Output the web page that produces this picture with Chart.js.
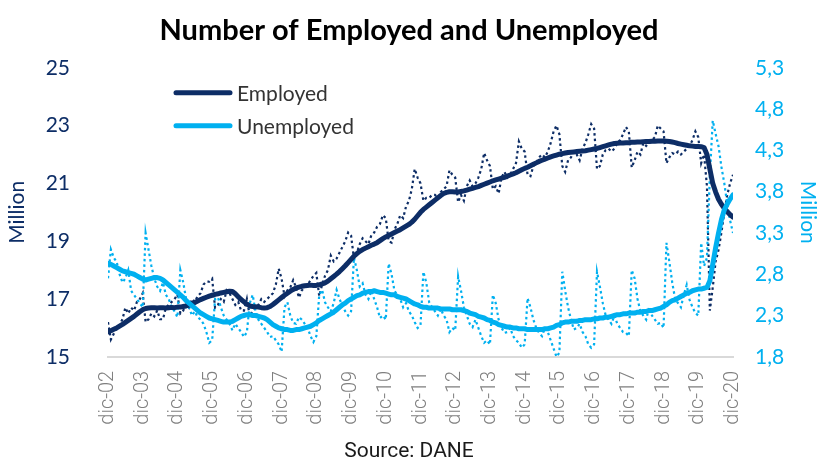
<!DOCTYPE html>
<html>
<head>
<meta charset="utf-8">
<script src="https://cdn.jsdelivr.net/npm/chart.js@4.4.1/dist/chart.umd.min.js"></script>
<style>
  html, body { margin: 0; padding: 0; background: #fff; }
  #wrap { width: 818px; height: 464px; }
</style>
</head>
<body>
<div id="wrap"><canvas id="laborChart" width="818" height="464"></canvas></div>
<script>
// Year ticks on the month axis (month 0 = dic-02)
const yearTicks = ['dic-02', 'dic-03', 'dic-04', 'dic-05', 'dic-06', 'dic-07', 'dic-08', 'dic-09', 'dic-10',
    'dic-11', 'dic-12', 'dic-13', 'dic-14', 'dic-15', 'dic-16', 'dic-17', 'dic-18', 'dic-19', 'dic-20'];
const employedTicks = [15, 17, 19, 21, 23, 25];
const unemployedTicks = [1.8, 2.3, 2.8, 3.3, 3.8, 4.3, 4.8, 5.3];

// Employed, millions, monthly (dic-02 .. dic-20)
const employedMonthly = [16.2,
    15.6, 15.8, 16.0, 16.1, 16.3, 16.7, 16.5, 16.7, 16.6, 16.9, 17.0, 17.2,
    16.2, 16.3, 16.5, 16.4, 16.6, 16.3, 16.3, 16.7, 16.8, 16.9, 17.0, 17.15,
    16.5, 16.6, 16.8, 16.7, 17.0, 16.9, 17.1, 17.2, 17.5, 17.6, 17.6, 17.7,
    16.7, 16.8, 17.0, 16.9, 17.3, 17.2, 17.0, 16.8, 16.9, 16.6, 16.6, 17.0,
    16.4, 16.6, 16.7, 16.8, 17.0, 16.9, 17.0, 17.1, 17.2, 17.5, 18.05, 17.7,
    17.1, 17.3, 17.4, 17.65, 17.4, 17.05, 17.3, 17.4, 17.5, 17.65, 17.8, 17.9,
    17.1, 17.5, 17.8, 18.0, 18.5, 18.3, 18.4, 18.6, 18.8, 19.0, 19.3, 19.2,
    18.4, 18.6, 18.9, 19.1, 19.0, 18.9, 19.2, 19.3, 19.5, 19.6, 19.9, 19.8,
    19.0, 18.95, 19.4, 19.6, 19.9, 19.8, 20.2, 20.4, 20.8, 21.5, 21.2, 21.0,
    20.4, 20.5, 20.5, 20.6, 20.6, 20.5, 20.7, 20.8, 20.9, 21.45, 21.3, 21.2,
    20.35, 20.6, 20.4, 20.9, 21.1, 20.9, 21.0, 21.2, 21.5, 22.05, 21.8, 21.6,
    20.8, 20.9, 20.65, 21.2, 21.4, 21.2, 21.3, 21.5, 21.7, 22.45, 22.2, 22.1,
    21.3, 21.25, 21.6, 21.7, 21.9, 22.0, 21.9, 22.1, 22.4, 22.8, 23.0, 22.7,
    21.6, 21.4, 21.8, 21.9, 22.1, 22.0, 21.8, 22.2, 22.4, 22.7, 23.05, 22.9,
    21.5, 21.6, 22.0, 22.15, 22.2, 22.1, 22.2, 22.4, 22.5, 22.7, 22.95, 22.8,
    21.55, 21.8, 22.1, 22.0, 22.4, 22.3, 22.4, 22.5, 22.6, 23.0, 22.9, 22.8,
    21.7, 21.9, 22.05, 22.0, 22.1, 22.0, 22.1, 22.2, 22.3, 22.5, 22.8, 22.6,
    21.7, 22.0, 20.9, 16.6, 17.4, 18.3, 18.7, 19.3, 20.0, 20.6, 21.0, 21.3];

// Employed, millions, smoothed trend
const employedTrend = [15.86,
    15.90, 15.95, 16.00, 16.06, 16.12, 16.19, 16.26, 16.33, 16.40, 16.48, 16.56, 16.63,
    16.67, 16.69, 16.70, 16.70, 16.69, 16.70, 16.70, 16.69, 16.70, 16.71, 16.70, 16.72,
    16.72, 16.74, 16.76, 16.79, 16.83, 16.88, 16.93, 16.98, 17.02, 17.06, 17.10, 17.13,
    17.16, 17.18, 17.21, 17.23, 17.25, 17.27, 17.26, 17.18, 17.08, 16.98, 16.90, 16.82,
    16.76, 16.74, 16.73, 16.72, 16.70, 16.69, 16.70, 16.74, 16.81, 16.89, 16.97, 17.05,
    17.13, 17.20, 17.27, 17.33, 17.38, 17.41, 17.44, 17.46, 17.47, 17.48, 17.47, 17.47,
    17.49, 17.52, 17.56, 17.62, 17.70, 17.78, 17.86, 17.95, 18.05, 18.15, 18.26, 18.37,
    18.48, 18.57, 18.65, 18.71, 18.76, 18.81, 18.86, 18.90, 18.95, 19.02, 19.09, 19.15,
    19.20, 19.25, 19.30, 19.35, 19.40, 19.46, 19.52, 19.58, 19.66, 19.76, 19.88, 20.00,
    20.10, 20.18, 20.26, 20.34, 20.42, 20.50, 20.58, 20.65, 20.69, 20.71, 20.71, 20.70,
    20.70, 20.72, 20.74, 20.77, 20.80, 20.83, 20.86, 20.89, 20.93, 20.97, 21.01, 21.05,
    21.09, 21.12, 21.15, 21.18, 21.21, 21.25, 21.29, 21.33, 21.37, 21.42, 21.47, 21.52,
    21.56, 21.61, 21.66, 21.71, 21.76, 21.80, 21.84, 21.88, 21.92, 21.95, 21.98, 22.01,
    22.03, 22.05, 22.07, 22.08, 22.09, 22.10, 22.11, 22.12, 22.13, 22.15, 22.17, 22.19,
    22.21, 22.24, 22.27, 22.30, 22.33, 22.36, 22.38, 22.39, 22.40, 22.40, 22.41, 22.41,
    22.42, 22.42, 22.43, 22.43, 22.44, 22.45, 22.45, 22.46, 22.46, 22.47, 22.47, 22.47,
    22.46, 22.45, 22.43, 22.41, 22.38, 22.36, 22.34, 22.32, 22.30, 22.29, 22.28, 22.28,
    22.27, 22.24, 22.00, 21.50, 21.00, 20.70, 20.45, 20.28, 20.14, 20.02, 19.92, 19.83];

// Unemployed, millions, monthly
const unemployedMonthly = [2.75,
    3.10, 3.00, 2.95, 2.80, 2.70, 2.75, 2.85, 2.60, 2.55, 2.50, 2.45, 2.40,
    3.30, 3.10, 2.90, 2.75, 2.65, 2.60, 2.70, 2.55, 2.50, 2.40, 2.35, 2.28,
    2.85, 2.70, 2.50, 2.40, 2.30, 2.35, 2.28, 2.25, 2.20, 2.10, 1.97, 2.00,
    2.50, 2.52, 2.40, 2.30, 2.25, 2.20, 2.12, 2.20, 2.15, 2.10, 2.04, 2.10,
    2.45, 2.55, 2.35, 2.25, 2.20, 2.15, 2.10, 2.04, 2.05, 2.00, 1.95, 1.86,
    2.40, 2.46, 2.30, 2.21, 2.20, 2.28, 2.25, 2.20, 2.15, 2.05, 1.98, 2.05,
    2.55, 2.61, 2.46, 2.40, 2.35, 2.45, 2.61, 2.50, 2.42, 2.35, 2.30, 2.35,
    3.00, 2.85, 2.65, 2.69, 2.55, 2.50, 2.60, 2.50, 2.40, 2.27, 2.30, 2.25,
    2.93, 2.80, 2.60, 2.55, 2.50, 2.40, 2.45, 2.35, 2.30, 2.22, 2.15, 2.18,
    2.83, 2.70, 2.46, 2.40, 2.35, 2.30, 2.38, 2.30, 2.25, 2.10, 2.15, 2.12,
    2.77, 2.60, 2.40, 2.30, 2.20, 2.16, 2.25, 2.15, 2.05, 1.97, 2.00, 1.95,
    2.55, 2.45, 2.25, 2.15, 2.09, 2.10, 2.15, 2.05, 2.00, 1.97, 1.91, 1.95,
    2.51, 2.40, 2.25, 2.15, 2.09, 2.05, 2.15, 2.10, 2.00, 1.90, 1.80, 1.85,
    2.83, 2.60, 2.40, 2.25, 2.13, 2.15, 2.20, 2.10, 2.05, 1.95, 1.91, 1.95,
    2.83, 2.65, 2.45, 2.30, 2.25, 2.20, 2.30, 2.20, 2.15, 2.10, 2.09, 2.05,
    2.85, 2.75, 2.50, 2.35, 2.30, 2.25, 2.40, 2.30, 2.25, 2.20, 2.21, 2.15,
    3.18, 2.95, 2.70, 2.50, 2.45, 2.40, 2.55, 2.67, 2.49, 2.40, 2.33, 2.30,
    3.18, 2.90, 3.00, 4.00, 4.66, 4.50, 4.35, 4.10, 3.90, 3.65, 3.45, 3.30];

// Unemployed, millions, smoothed trend
const unemployedTrend = [2.93,
    2.92, 2.90, 2.88, 2.86, 2.84, 2.83, 2.82, 2.81, 2.80, 2.78, 2.76, 2.74,
    2.73, 2.74, 2.75, 2.76, 2.76, 2.75, 2.73, 2.70, 2.67, 2.64, 2.61, 2.58,
    2.55, 2.52, 2.48, 2.45, 2.42, 2.39, 2.36, 2.33, 2.31, 2.29, 2.27, 2.26,
    2.25, 2.24, 2.23, 2.22, 2.22, 2.22, 2.23, 2.25, 2.27, 2.29, 2.30, 2.31,
    2.31, 2.30, 2.30, 2.29, 2.28, 2.27, 2.25, 2.22, 2.19, 2.17, 2.15, 2.14,
    2.13, 2.13, 2.12, 2.12, 2.13, 2.13, 2.14, 2.15, 2.16, 2.17, 2.19, 2.21,
    2.24, 2.26, 2.28, 2.30, 2.32, 2.34, 2.37, 2.40, 2.43, 2.45, 2.48, 2.50,
    2.52, 2.54, 2.55, 2.57, 2.58, 2.59, 2.59, 2.60, 2.59, 2.58, 2.58, 2.57,
    2.56, 2.55, 2.55, 2.53, 2.52, 2.51, 2.50, 2.48, 2.46, 2.44, 2.43, 2.41,
    2.40, 2.40, 2.39, 2.39, 2.39, 2.39, 2.38, 2.38, 2.38, 2.38, 2.37, 2.37,
    2.37, 2.37, 2.36, 2.35, 2.33, 2.32, 2.31, 2.29, 2.28, 2.27, 2.25, 2.24,
    2.22, 2.21, 2.19, 2.18, 2.17, 2.16, 2.16, 2.15, 2.15, 2.14, 2.14, 2.14,
    2.13, 2.13, 2.13, 2.13, 2.13, 2.13, 2.14, 2.14, 2.15, 2.16, 2.18, 2.19,
    2.21, 2.22, 2.22, 2.23, 2.23, 2.23, 2.24, 2.24, 2.25, 2.25, 2.25, 2.26,
    2.26, 2.27, 2.27, 2.28, 2.28, 2.29, 2.30, 2.31, 2.31, 2.32, 2.32, 2.33,
    2.33, 2.33, 2.34, 2.34, 2.35, 2.35, 2.36, 2.36, 2.37, 2.38, 2.39, 2.41,
    2.43, 2.46, 2.48, 2.49, 2.51, 2.53, 2.55, 2.57, 2.58, 2.60, 2.61, 2.62,
    2.62, 2.63, 2.64, 2.72, 2.92, 3.12, 3.30, 3.46, 3.58, 3.65, 3.71, 3.76];

const NAVY = '#0d2d66';
const SKY = '#00b0f0';

const byMonth = arr => arr.map((v, i) => ({ x: i, y: v }));

// Legend drawn inside the plot, top-left, as a thick line sample + label
const lineLegend = {
    id: 'lineLegend',
    afterDatasetsDraw(chart) {
        const { ctx, chartArea } = chart;
        const items = chart.data.datasets.filter(d => d.inLegend);
        ctx.save();
        items.forEach((ds, i) => {
            const y = chartArea.top + 25 + i * 33;
            const x0 = chartArea.left + 68;
            ctx.strokeStyle = ds.borderColor;
            ctx.lineWidth = 5;
            ctx.lineCap = 'round';
            ctx.beginPath();
            ctx.moveTo(x0, y);
            ctx.lineTo(x0 + 54, y);
            ctx.stroke();
            ctx.fillStyle = '#333';
            ctx.font = "21px 'Lato'";
            ctx.textBaseline = 'middle';
            ctx.fillText(ds.label, x0 + 61, y + 1);
        });
        ctx.restore();
    }
};

Chart.defaults.font.family = "'Lato', sans-serif";

new Chart(document.getElementById('laborChart'), {
    type: 'line',
    data: {
        datasets: [
            {
                label: 'Employed',
                inLegend: true,
                data: byMonth(employedTrend),
                yAxisID: 'yEmp',
                borderColor: NAVY,
                borderWidth: 5,
                borderCapStyle: 'round',
                borderJoinStyle: 'round',
                pointRadius: 0,
                order: 1
            },
            {
                label: 'Unemployed',
                inLegend: true,
                data: byMonth(unemployedTrend),
                yAxisID: 'yUnemp',
                borderColor: SKY,
                borderWidth: 5,
                borderCapStyle: 'round',
                borderJoinStyle: 'round',
                pointRadius: 0,
                order: 0
            },
            {
                label: 'Employed (monthly)',
                data: byMonth(employedMonthly),
                yAxisID: 'yEmp',
                borderColor: NAVY,
                borderWidth: 2.2,
                borderDash: [2.5, 3],
                pointRadius: 0,
                order: 3
            },
            {
                label: 'Unemployed (monthly)',
                data: byMonth(unemployedMonthly),
                yAxisID: 'yUnemp',
                borderColor: SKY,
                borderWidth: 2.2,
                borderDash: [2.5, 3],
                pointRadius: 0,
                order: 2
            }
        ]
    },
    options: {
        responsive: false,
        animation: false,
        layout: { padding: 0 },
        plugins: {
            legend: { display: false },
            tooltip: { enabled: false },
            title: {
                display: true,
                text: 'Number of Employed and Unemployed',
                color: '#000',
                font: { size: 29, weight: 'bold' },
                padding: { top: 13, bottom: 20 }
            },
            subtitle: {
                display: true,
                position: 'bottom',
                text: 'Source: DANE',
                color: '#1a1a1a',
                font: { family: 'Roboto', size: 21 },
                padding: 0
            }
        },
        scales: {
            x: {
                type: 'linear',
                min: 0,
                max: 216,
                afterBuildTicks: s => { s.ticks = yearTicks.map((_, i) => ({ value: i * 12 })); },
                afterFit: s => { s.height = 82; },
                ticks: {
                    callback: v => yearTicks[v / 12],
                    minRotation: 90,
                    maxRotation: 90,
                    autoSkip: false,
                    padding: 14,
                    color: '#808080',
                    font: { family: 'Roboto', size: 20, weight: 300 }
                },
                grid: { display: false, drawTicks: false },
                border: { display: true, color: '#d9d9d9', width: 2 }
            },
            yEmp: {
                position: 'left',
                min: 15,
                max: 25,
                afterBuildTicks: s => { s.ticks = employedTicks.map(v => ({ value: v })); },
                afterFit: s => { s.width = 108; },
                ticks: { padding: 38, color: NAVY, font: { size: 21 } },
                grid: { display: false, drawTicks: false },
                border: { display: false },
                title: {
                    display: true,
                    text: 'Million',
                    color: NAVY,
                    font: { size: 21, lineHeight: 1 },
                    padding: { top: 7, bottom: 0 }
                }
            },
            yUnemp: {
                position: 'right',
                min: 1.8,
                max: 5.3,
                afterBuildTicks: s => { s.ticks = unemployedTicks.map(v => ({ value: v })); },
                afterFit: s => { s.width = 85; },
                ticks: {
                    padding: 22,
                    color: SKY,
                    font: { size: 21 },
                    callback: v => v.toFixed(1).replace('.', ',')
                },
                grid: { display: false, drawTicks: false },
                border: { display: false },
                title: {
                    display: true,
                    text: 'Million',
                    color: SKY,
                    font: { size: 21, lineHeight: 1 },
                    padding: { top: 0, bottom: 0 }
                }
            }
        }
    },
    plugins: [lineLegend]
});
</script>
</body>
</html>
